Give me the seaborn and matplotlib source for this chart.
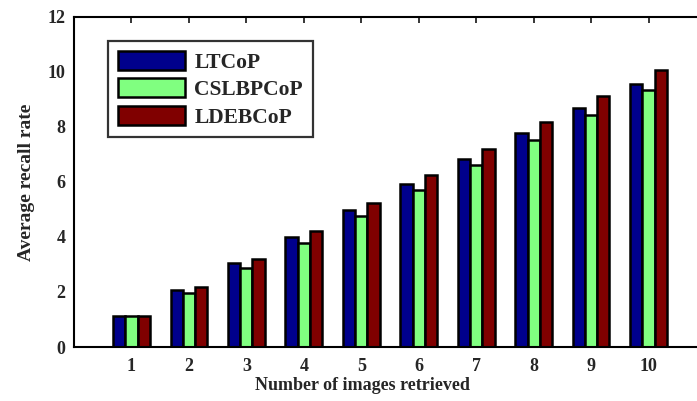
import matplotlib
matplotlib.use("Agg")
import matplotlib.pyplot as plt
import seaborn as sns
import pandas as pd

categories = ["1", "2", "3", "4", "5", "6", "7", "8", "9", "10"]
ltcop = [1.12, 2.08, 3.06, 4.0, 4.97, 5.92, 6.85, 7.77, 8.68, 9.56]
cslbpcop = [1.12, 1.95, 2.86, 3.8, 4.75, 5.7, 6.62, 7.53, 8.44, 9.35]
ldebcop = [1.12, 2.18, 3.2, 4.22, 5.22, 6.25, 7.2, 8.18, 9.14, 10.07]
series = ["LTCoP", "CSLBPCoP", "LDEBCoP"]
colors = ["#00008c", "#80ff80", "#800000"]

rows = []
for name, vals in zip(series, [ltcop, cslbpcop, ldebcop]):
    for c, v in zip(categories, vals):
        rows.append({"n": c, "method": name, "value": v})
df = pd.DataFrame(rows)

sns.set_style("white")
plt.rcParams["font.family"] = ["Liberation Serif", "DejaVu Serif"]
plt.rcParams["font.weight"] = "bold"

fig = plt.figure(figsize=(6.97, 4.01), dpi=100)
ax = fig.add_axes([74 / 697, 1 - 347 / 401, 632 / 697, 330 / 401])

sns.barplot(data=df, x="n", y="value", hue="method", order=categories,
            hue_order=series, palette=colors, width=0.64, saturation=1,
            edgecolor="black", linewidth=1.8, ax=ax, legend=True)

ax.set_xlim(-1, 10)
ax.set_ylim(0, 12)
ax.set_yticks(range(0, 13, 2))
ax.tick_params(direction="in", length=4, width=1.3, top=True, right=True,
               labelsize=13)
ax.tick_params(axis="x", pad=8)
ax.tick_params(axis="y", pad=6)
for lab in ax.get_xticklabels() + ax.get_yticklabels():
    lab.set_fontweight("bold")
for s in ax.spines.values():
    s.set_linewidth(1.5)
    s.set_color("black")
ax.set_xlabel("Number of images retrieved", fontsize=13, fontweight="bold")
ax.set_ylabel("Average recall rate", fontsize=14, fontweight="bold")
ax.xaxis.set_label_coords(0.456, -0.09)
ax.yaxis.set_label_coords(-0.062, 0.5)

handles, labels = ax.get_legend_handles_labels()
leg = ax.legend(handles, labels, loc="upper left", bbox_to_anchor=(0.054, 0.927),
                fontsize=15.5, handlelength=3.1, handleheight=1.0, labelspacing=0.25,
                handletextpad=0.45, borderpad=0.45, frameon=True, fancybox=False,
                edgecolor="black", borderaxespad=0)
leg.get_frame().set_linewidth(1.6)
for t in leg.get_texts():
    t.set_fontweight("bold")

fig.savefig("out.png", dpi=100)
